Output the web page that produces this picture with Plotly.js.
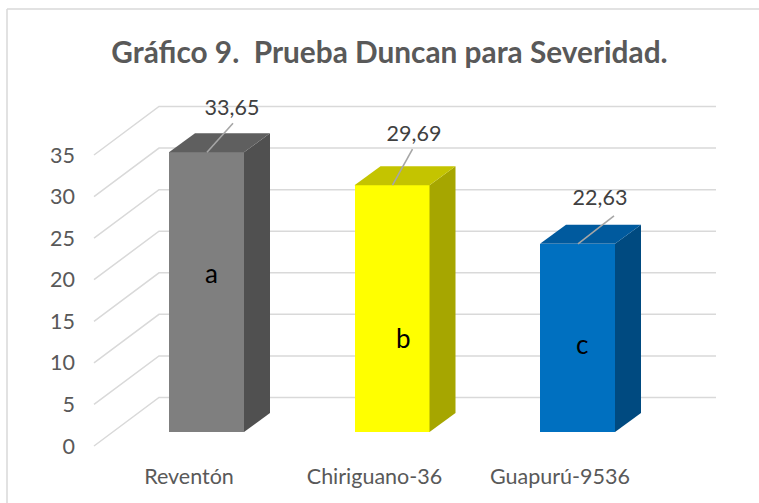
<!DOCTYPE html>
<html><head><meta charset="utf-8">
<script src="https://cdn.plot.ly/plotly-3.0.1.min.js"></script>
<style>html,body{margin:0;padding:0;background:#fff}</style>
</head><body><div id="chart" style="width:759px;height:503px"></div>
<script>
const categories = ["Reventón", "Chiriguano-36", "Guapurú-9536"];
const positions = [0, 1, 2];
const severity = [33.65, 29.69, 22.63];
const letters = ["a", "b", "c"];
const letterHeights = [19.1, 11.3, 10.6];
const yTicks = [0, 5, 10, 15, 20, 25, 30, 35];
const frontColors = ["#7f7f7f", "#ffff00", "#0070c0"];
const topColors = ["#5f5f5f", "#c4c400", "#005a9e"];
const sideColors = ["#505050", "#a6a600", "#004a80"];

const W = 759, H = 503;
const plotL = 80, plotR = 735, plotT = 90, plotB = 458;
const pxX = 185.5, x0Px = 189, pxY = 8.315, y0Px = 446;
const xRange = [(plotL - x0Px) / pxX, (plotR - x0Px) / pxX];
const yRange = [(y0Px - plotB) / pxY, (y0Px - plotT) / pxY];
const dX = p => p / pxX, dY = p => p / pxY;

const barOffset = dX(-20), barW = dX(75), barBase = dY(14);
const depthX = dX(26), depthY = dY(19);
const wallX = dX(65), wallY = dY(48.5), floorStart = dX(94 - 189), wallEnd = dX(716 - 189);

const traces = [];
// bars (front faces)
traces.push({type: "bar", x: positions, y: severity, base: barBase, offset: barOffset, width: barW,
  marker: {color: frontColors, line: {width: 0}}, showlegend: false});
// side and top faces
const leadDx = [26, 20, 36], leadDy = [29, 36, 28];
positions.forEach((p, i) => {
  const l = p + barOffset, r = l + barW, b = barBase, t = barBase + severity[i];
  traces.push({type: "scatter", mode: "lines", fill: "toself", fillcolor: sideColors[i], hoverinfo: "skip", showlegend: false,
    x: [r, r + depthX, r + depthX, r, r], y: [b, b + depthY, t + depthY, t, b],
    line: {color: sideColors[i], width: 0}});
  traces.push({type: "scatter", mode: "lines", fill: "toself", fillcolor: topColors[i], hoverinfo: "skip", showlegend: false,
    x: [l, l + depthX, r + depthX, r, l], y: [t, t + depthY, t + depthY, t, t],
    line: {color: topColors[i], width: 0}});
  // leader line
  const c = l + barW / 2 + dX(0.5);
  traces.push({type: "scatter", mode: "lines", hoverinfo: "skip", showlegend: false,
    x: [c, c + dX(leadDx[i])], y: [t, t + dY(leadDy[i])],
    line: {color: "#a6a6a6", width: 1.6}});
});
const labelDx = [43, 39.5, 40], labelDy = [43, 50, 44];
traces.push({type: "scatter", mode: "text", showlegend: false, hoverinfo: "skip",
  x: positions.map((p, i) => p + dX(labelDx[i])),
  y: severity.map((v, i) => barBase + v + dY(labelDy[i])),
  text: severity.map(v => v.toFixed(2).replace(".", ",")),
  textposition: "middle center",
  textfont: {family: "Lato, sans-serif", size: 21.5, color: "#404040"}});

const annotations = letters.map((s, i) => ({
  x: positions[i] + dX([22, 29, 22][i]), y: barBase + letterHeights[i],
  xref: "x", yref: "y", text: s, showarrow: false,
  font: {family: "Lato, sans-serif", size: 26, color: "#000000"}}));

// gridlines along the floor and back wall, below the bars
const gridShapes = yTicks.map(t => ({
  type: "path", xref: "x", yref: "y", layer: "below",
  path: `M ${floorStart} ${t} L ${floorStart + wallX} ${t + wallY} L ${wallEnd} ${t + wallY}`,
  line: {color: "#d9d9d9", width: 1.5}
}));
const px = v => (v - plotL) / (plotR - plotL), py = v => (plotB - v) / (plotB - plotT);

const layout = {
  width: W, height: H, autosize: false,
  margin: {l: plotL, r: W - plotR, t: plotT, b: H - plotB, pad: 0},
  paper_bgcolor: "#ffffff", plot_bgcolor: "rgba(0,0,0,0)",
  font: {family: "Lato, sans-serif", color: "#595959"},
  title: {text: "Gráfico 9.  Prueba Duncan para Severidad.", x: 389.5 / W, xanchor: "center", y: 1 - 53 / H, yanchor: "middle",
    font: {family: "Lato, sans-serif", size: 29.8, weight: 700, color: "#595959"}},
  showlegend: false, bargap: 0,
  xaxis: {type: "linear", range: xRange, tickvals: positions, ticktext: categories, showgrid: false, zeroline: false,
    showline: false, ticks: "", ticklabelstandoff: 3, tickfont: {size: 21.5, color: "#595959"}, fixedrange: true},
  yaxis: {type: "linear", range: yRange, tickvals: yTicks, showgrid: false, zeroline: false,
    showline: false, ticks: "", ticklabelstandoff: 4, tickfont: {size: 21.5, color: "#595959"}, fixedrange: true},
  shapes: gridShapes.concat([
    {type: "line", xref: "paper", yref: "paper", x0: px(7), x1: px(759), y0: py(9), y1: py(9), line: {color: "#d9d9d9", width: 1.5}},
    {type: "line", xref: "paper", yref: "paper", x0: px(7), x1: px(7), y0: py(9), y1: py(503), line: {color: "#d9d9d9", width: 1.5}}
  ]),
  annotations
};
Plotly.newPlot("chart", traces, layout, {displayModeBar: false, responsive: false});
</script></body></html>
